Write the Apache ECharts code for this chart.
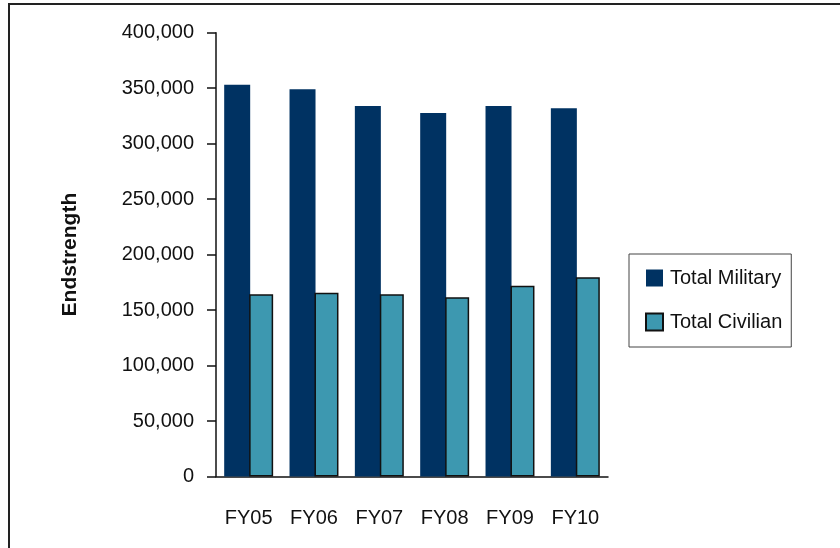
<!DOCTYPE html>
<html>
<head>
<meta charset="utf-8">
<script src="https://cdn.jsdelivr.net/npm/echarts@6/dist/echarts.min.js"></script>
<style>
html,body{margin:0;padding:0;background:#fff;}
#c{width:840px;height:548px;}
</style>
</head>
<body>
<div id="c"></div>
<script>
const categories = ['FY05','FY06','FY07','FY08','FY09','FY10'];
const totalMilitary = [353000, 349000, 334000, 327600, 334000, 332000];
const totalCivilian = [164200, 165700, 164200, 161500, 172000, 179500];
const yTicks = [0, 50000, 100000, 150000, 200000, 250000, 300000, 350000, 400000];

const FONT = '"Liberation Sans", Arial, sans-serif';
const chart = echarts.init(document.getElementById('c'));
chart.setOption({
  animation: false,
  backgroundColor: '#fff',
  graphic: [{
    type: 'rect',
    shape: {x: 9, y: 4, width: 900, height: 700},
    style: {fill: 'none', stroke: '#222', lineWidth: 2},
    silent: true
  }],
  grid: {left: 216, right: 232, top: 32.7, bottom: 71.5, containLabel: false},
  legend: {
    orient: 'vertical',
    left: 629,
    top: 254,
    padding: [14, 9, 15, 16],
    borderColor: '#444',
    borderWidth: 1,
    itemWidth: 17,
    itemHeight: 17,
    itemGap: 24,
    icon: 'rect',
    textStyle: {fontFamily: FONT, fontSize: 20, color: '#111', lineHeight: 17, padding: [0,0,0,2]},
    data: ['Total Military', 'Total Civilian']
  },
  xAxis: {
    type: 'category',
    data: categories,
    axisLine: {lineStyle: {color: '#111', width: 1.5}},
    axisTick: {show: false},
    axisLabel: {fontFamily: FONT, fontSize: 20, color: '#111', margin: 32, interval: 0}
  },
  yAxis: {
    type: 'value',
    min: yTicks[0],
    max: yTicks[yTicks.length - 1],
    interval: yTicks[1] - yTicks[0],
    name: 'Endstrength',
    nameLocation: 'middle',
    nameRotate: 90,
    nameGap: 135,
    nameTextStyle: {fontFamily: FONT, fontWeight: 'bold', fontSize: 21, color: '#111'},
    axisLine: {show: true, lineStyle: {color: '#111', width: 1.5}},
    axisTick: {show: true, length: 9, lineStyle: {color: '#111', width: 1.5}},
    splitLine: {show: false},
    axisLabel: {
      fontFamily: FONT, fontSize: 20, color: '#111', margin: 22,
      formatter: v => v.toLocaleString('en-US')
    }
  },
  series: [
    {
      name: 'Total Military',
      type: 'bar',
      data: totalMilitary,
      barWidth: 26,
      barGap: '-4%',
      itemStyle: {color: '#003262'}
    },
    {
      name: 'Total Civilian',
      type: 'bar',
      data: totalCivilian,
      barWidth: 24,
      itemStyle: {color: '#3D98B0', borderColor: '#111', borderWidth: 1.5}
    }
  ]
});
</script>
</body>
</html>
